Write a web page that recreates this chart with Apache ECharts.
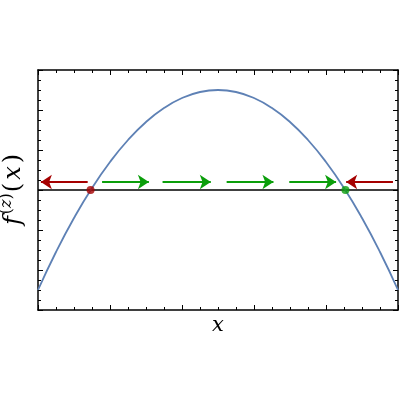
<!DOCTYPE html>
<html>
<head>
<meta charset="utf-8">
<script src="https://cdn.jsdelivr.net/npm/echarts@6/dist/echarts.min.js"></script>
<style>
  html,body{margin:0;padding:0;background:#fff;}
  #main{width:400px;height:400px;}
</style>
</head>
<body>
<div id="main"></div>
<script>
// curve (x from 0 to 5, y from -3 to 3)
var curveX=[0,0.25,0.5,0.75,1,1.25,1.5,1.75,2,2.25,2.5,2.75,3,3.25,3.5,3.75,4,4.25,4.5,4.75,5];
var curveY=[-2.5,-1.55,-0.7,0.05,0.7,1.25,1.7,2.05,2.3,2.45,2.5,2.45,2.3,2.05,1.7,1.25,0.7,0.05,-0.7,-1.55,-2.5];
// fixed points: unstable (red) and stable (green)
var redPoint=[0.73,0];
var greenPoint=[4.27,0];
// arrows [from, to] along the axis, drawn just above y=0
var arrowY=0.2;
var redArrows=[[0.69,0.04],[4.93,4.28]];
var greenArrows=[[0.89,1.54],[1.73,2.40],[2.62,3.27],[3.49,4.14]];
var xMin=0,xMax=5,yMin=-3,yMax=3;

var FONT='"DejaVu Serif", "Liberation Serif", serif';
var chart=echarts.init(document.getElementById('main'));

function arrowData(list){
    var out=[];
    for(var i=0;i<list.length;i++)
        out.push({coords:[[list[i][0],arrowY],[list[i][1],arrowY]]});
    return out;
}
var curveData=[];
for(var i=0;i<curveX.length;i++) curveData.push([curveX[i],curveY[i]]);

var tickStyle={show:true,inside:true,length:5,lineStyle:{color:'#000',width:1}};
var minorStyle={show:true,splitNumber:4,length:3,lineStyle:{color:'#000',width:1}};
var lineStyle={show:true,onZero:false,lineStyle:{color:'#000',width:1.5}};

var option={
    animation:false,
    backgroundColor:'#fff',
    grid:{left:38,right:2,top:70,bottom:90,containLabel:false,outerBoundsMode:'none'},
    xAxis:[
        {type:'value',min:xMin,max:xMax,interval:1,position:'bottom',
         axisLine:lineStyle,axisTick:tickStyle,minorTick:minorStyle,
         axisLabel:{show:false},splitLine:{show:false},
         name:'x',nameLocation:'middle',nameGap:5,
         nameTextStyle:{fontFamily:FONT,fontStyle:'italic',fontSize:21,color:'#000'}},
        {type:'value',min:xMin,max:xMax,interval:1,position:'top',
         axisLine:lineStyle,axisTick:tickStyle,minorTick:minorStyle,
         axisLabel:{show:false},splitLine:{show:false}}
    ],
    yAxis:[
        {type:'value',min:yMin,max:yMax,interval:1,position:'left',
         axisLine:lineStyle,axisTick:tickStyle,minorTick:minorStyle,
         axisLabel:{show:false},splitLine:{show:false},
         name:'{i|f}{sp|(}{si|z}{sp|)}{p|(}{i|x}{p|)}',nameLocation:'middle',nameRotate:90,nameGap:9,
         nameTextStyle:{color:'#000',rich:{
             i:{fontFamily:FONT,fontStyle:'italic',fontSize:24,color:'#000',padding:[0,2,0,2]},
             p:{fontFamily:FONT,fontSize:24,color:'#000',padding:[0,1,0,1]},
             sp:{fontFamily:FONT,fontSize:16,color:'#000',verticalAlign:'top',lineHeight:30},
             si:{fontFamily:FONT,fontStyle:'italic',fontSize:16,color:'#000',verticalAlign:'top',lineHeight:30}
         }}},
        {type:'value',min:yMin,max:yMax,interval:1,position:'right',
         axisLine:lineStyle,axisTick:tickStyle,minorTick:minorStyle,
         axisLabel:{show:false},splitLine:{show:false}}
    ],
    series:[
        {type:'line',data:[[xMin,0],[xMax,0]],showSymbol:false,
         lineStyle:{color:'#000',width:1.5},z:2},
        {type:'line',data:curveData,smooth:true,showSymbol:false,
         lineStyle:{color:'#5e81b5',width:1.8},z:3},
        {type:'lines',coordinateSystem:'cartesian2d',data:arrowData(greenArrows),
         symbol:['none','arrow'],symbolSize:[0,11],
         lineStyle:{color:'#0b9e0b',width:2,opacity:1},z:4},
        {type:'lines',coordinateSystem:'cartesian2d',data:arrowData(redArrows),
         symbol:['none','arrow'],symbolSize:[0,11],
         lineStyle:{color:'#a50000',width:2,opacity:1},z:4},
        {type:'scatter',data:[redPoint],symbolSize:8,itemStyle:{color:'#a50000'},z:5},
        {type:'scatter',data:[greenPoint],symbolSize:8,itemStyle:{color:'#0b9e0b'},z:5}
    ]
};
chart.setOption(option);
</script>
</body>
</html>
